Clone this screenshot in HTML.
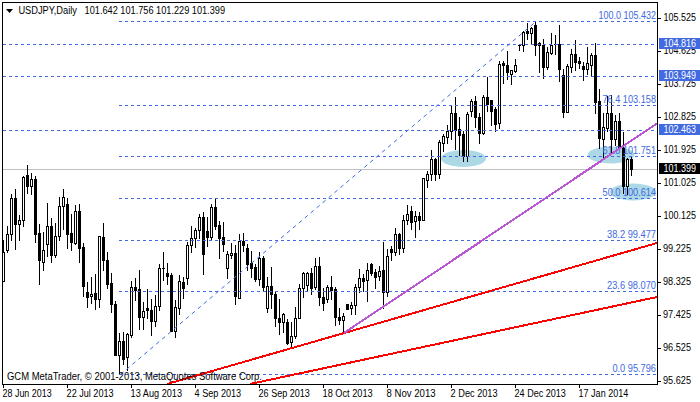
<!DOCTYPE html>
<html><head><meta charset="utf-8"><title>USDJPY,Daily</title>
<style>html,body{margin:0;padding:0;background:#fff}svg{display:block}text{font-family:"Liberation Sans",sans-serif;font-size:10px}</style></head><body>
<svg width="700" height="402" viewBox="0 0 700 402">
<rect x="0" y="0" width="700" height="402" fill="#ffffff"/>
<g fill="#add8e6">
<ellipse cx="463.5" cy="158.5" rx="22.5" ry="8.5"/>
<ellipse cx="611" cy="155" rx="23.5" ry="8.5"/>
<ellipse cx="633" cy="192" rx="23" ry="8.5"/>
</g>
<g shape-rendering="crispEdges">
<rect x="3" y="169" width="654" height="1" fill="#c0c0c0"/>
<g fill="#000">
<rect x="3" y="240" width="1" height="42"/>
<rect x="2" y="252" width="3" height="30"/>
<rect x="3" y="253" width="1" height="28" fill="#fff"/>
<rect x="7" y="226" width="1" height="27"/>
<rect x="6" y="234" width="3" height="17"/>
<rect x="7" y="235" width="1" height="15" fill="#fff"/>
<rect x="11" y="194" width="1" height="47"/>
<rect x="10" y="198" width="3" height="37"/>
<rect x="11" y="199" width="1" height="35" fill="#fff"/>
<rect x="15" y="189" width="1" height="61"/>
<rect x="14" y="198" width="3" height="27"/>
<rect x="19" y="215" width="1" height="26"/>
<rect x="18" y="220" width="3" height="5"/>
<rect x="19" y="221" width="1" height="3" fill="#fff"/>
<rect x="23" y="176" width="1" height="51"/>
<rect x="22" y="177" width="3" height="44"/>
<rect x="23" y="178" width="1" height="42" fill="#fff"/>
<rect x="27" y="165" width="1" height="29"/>
<rect x="26" y="175" width="3" height="12"/>
<rect x="31" y="173" width="1" height="22"/>
<rect x="30" y="179" width="3" height="8"/>
<rect x="31" y="180" width="1" height="6" fill="#fff"/>
<rect x="35" y="176" width="1" height="67"/>
<rect x="34" y="179" width="3" height="56"/>
<rect x="39" y="224" width="1" height="61"/>
<rect x="38" y="233" width="3" height="28"/>
<rect x="43" y="232" width="1" height="39"/>
<rect x="42" y="250" width="3" height="13"/>
<rect x="43" y="251" width="1" height="11" fill="#fff"/>
<rect x="47" y="203" width="1" height="54"/>
<rect x="46" y="226" width="3" height="19"/>
<rect x="47" y="227" width="1" height="17" fill="#fff"/>
<rect x="51" y="218" width="1" height="45"/>
<rect x="50" y="226" width="3" height="30"/>
<rect x="55" y="223" width="1" height="35"/>
<rect x="54" y="236" width="3" height="20"/>
<rect x="55" y="237" width="1" height="18" fill="#fff"/>
<rect x="59" y="197" width="1" height="44"/>
<rect x="58" y="206" width="3" height="31"/>
<rect x="59" y="207" width="1" height="29" fill="#fff"/>
<rect x="63" y="189" width="1" height="41"/>
<rect x="62" y="197" width="3" height="10"/>
<rect x="63" y="198" width="1" height="8" fill="#fff"/>
<rect x="67" y="198" width="1" height="51"/>
<rect x="66" y="204" width="3" height="31"/>
<rect x="71" y="214" width="1" height="37"/>
<rect x="70" y="233" width="3" height="10"/>
<rect x="75" y="205" width="1" height="40"/>
<rect x="74" y="211" width="3" height="33"/>
<rect x="75" y="212" width="1" height="31" fill="#fff"/>
<rect x="79" y="204" width="1" height="59"/>
<rect x="78" y="211" width="3" height="38"/>
<rect x="83" y="243" width="1" height="54"/>
<rect x="82" y="247" width="3" height="40"/>
<rect x="87" y="282" width="1" height="26"/>
<rect x="86" y="292" width="3" height="6"/>
<rect x="91" y="277" width="1" height="27"/>
<rect x="90" y="294" width="3" height="3"/>
<rect x="91" y="295" width="1" height="1" fill="#fff"/>
<rect x="95" y="274" width="1" height="36"/>
<rect x="94" y="293" width="3" height="7"/>
<rect x="99" y="236" width="1" height="72"/>
<rect x="98" y="236" width="3" height="64"/>
<rect x="99" y="237" width="1" height="62" fill="#fff"/>
<rect x="103" y="223" width="1" height="48"/>
<rect x="102" y="237" width="3" height="24"/>
<rect x="107" y="252" width="1" height="37"/>
<rect x="106" y="260" width="3" height="25"/>
<rect x="111" y="273" width="1" height="40"/>
<rect x="110" y="283" width="3" height="22"/>
<rect x="115" y="301" width="1" height="55"/>
<rect x="114" y="304" width="3" height="52"/>
<rect x="119" y="333" width="1" height="42"/>
<rect x="118" y="341" width="3" height="15"/>
<rect x="119" y="342" width="1" height="13" fill="#fff"/>
<rect x="123" y="332" width="1" height="33"/>
<rect x="122" y="341" width="3" height="19"/>
<rect x="127" y="333" width="1" height="38"/>
<rect x="126" y="334" width="3" height="24"/>
<rect x="127" y="335" width="1" height="22" fill="#fff"/>
<rect x="131" y="281" width="1" height="57"/>
<rect x="130" y="287" width="3" height="49"/>
<rect x="131" y="288" width="1" height="47" fill="#fff"/>
<rect x="135" y="278" width="1" height="23"/>
<rect x="134" y="287" width="3" height="4"/>
<rect x="139" y="270" width="1" height="60"/>
<rect x="138" y="289" width="3" height="29"/>
<rect x="143" y="302" width="1" height="28"/>
<rect x="142" y="311" width="3" height="7"/>
<rect x="143" y="312" width="1" height="5" fill="#fff"/>
<rect x="147" y="289" width="1" height="30"/>
<rect x="146" y="308" width="3" height="3"/>
<rect x="151" y="299" width="1" height="37"/>
<rect x="150" y="310" width="3" height="12"/>
<rect x="155" y="295" width="1" height="32"/>
<rect x="154" y="306" width="3" height="16"/>
<rect x="155" y="307" width="1" height="14" fill="#fff"/>
<rect x="159" y="264" width="1" height="47"/>
<rect x="158" y="268" width="3" height="39"/>
<rect x="159" y="269" width="1" height="37" fill="#fff"/>
<rect x="163" y="252" width="1" height="29"/>
<rect x="162" y="268" width="3" height="1"/>
<rect x="167" y="263" width="1" height="22"/>
<rect x="166" y="273" width="3" height="4"/>
<rect x="171" y="273" width="1" height="59"/>
<rect x="170" y="275" width="3" height="57"/>
<rect x="175" y="300" width="1" height="38"/>
<rect x="174" y="307" width="3" height="25"/>
<rect x="175" y="308" width="1" height="23" fill="#fff"/>
<rect x="179" y="275" width="1" height="40"/>
<rect x="178" y="281" width="3" height="28"/>
<rect x="179" y="282" width="1" height="26" fill="#fff"/>
<rect x="183" y="277" width="1" height="22"/>
<rect x="182" y="282" width="3" height="7"/>
<rect x="187" y="242" width="1" height="43"/>
<rect x="186" y="245" width="3" height="34"/>
<rect x="187" y="246" width="1" height="32" fill="#fff"/>
<rect x="191" y="226" width="1" height="27"/>
<rect x="190" y="238" width="3" height="8"/>
<rect x="191" y="239" width="1" height="6" fill="#fff"/>
<rect x="195" y="228" width="1" height="20"/>
<rect x="194" y="230" width="3" height="9"/>
<rect x="195" y="231" width="1" height="7" fill="#fff"/>
<rect x="199" y="214" width="1" height="25"/>
<rect x="198" y="217" width="3" height="14"/>
<rect x="199" y="218" width="1" height="12" fill="#fff"/>
<rect x="203" y="212" width="1" height="63"/>
<rect x="202" y="217" width="3" height="38"/>
<rect x="207" y="217" width="1" height="30"/>
<rect x="206" y="231" width="3" height="7"/>
<rect x="211" y="204" width="1" height="37"/>
<rect x="210" y="207" width="3" height="31"/>
<rect x="211" y="208" width="1" height="29" fill="#fff"/>
<rect x="215" y="198" width="1" height="32"/>
<rect x="214" y="207" width="3" height="20"/>
<rect x="219" y="221" width="1" height="38"/>
<rect x="218" y="225" width="3" height="14"/>
<rect x="223" y="222" width="1" height="30"/>
<rect x="222" y="237" width="3" height="8"/>
<rect x="227" y="251" width="1" height="28"/>
<rect x="226" y="254" width="3" height="15"/>
<rect x="227" y="255" width="1" height="13" fill="#fff"/>
<rect x="231" y="243" width="1" height="16"/>
<rect x="230" y="253" width="3" height="3"/>
<rect x="231" y="254" width="1" height="1" fill="#fff"/>
<rect x="235" y="245" width="1" height="60"/>
<rect x="234" y="253" width="3" height="44"/>
<rect x="239" y="234" width="1" height="65"/>
<rect x="238" y="241" width="3" height="58"/>
<rect x="239" y="242" width="1" height="56" fill="#fff"/>
<rect x="243" y="233" width="1" height="19"/>
<rect x="242" y="241" width="3" height="5"/>
<rect x="247" y="244" width="1" height="27"/>
<rect x="246" y="248" width="3" height="17"/>
<rect x="251" y="251" width="1" height="27"/>
<rect x="250" y="263" width="3" height="6"/>
<rect x="255" y="264" width="1" height="18"/>
<rect x="254" y="267" width="3" height="13"/>
<rect x="259" y="252" width="1" height="34"/>
<rect x="258" y="258" width="3" height="22"/>
<rect x="259" y="259" width="1" height="20" fill="#fff"/>
<rect x="263" y="256" width="1" height="36"/>
<rect x="262" y="258" width="3" height="30"/>
<rect x="267" y="277" width="1" height="36"/>
<rect x="266" y="286" width="3" height="23"/>
<rect x="267" y="287" width="1" height="21" fill="#fff"/>
<rect x="271" y="267" width="1" height="42"/>
<rect x="270" y="286" width="3" height="9"/>
<rect x="275" y="292" width="1" height="35"/>
<rect x="274" y="294" width="3" height="25"/>
<rect x="279" y="299" width="1" height="36"/>
<rect x="278" y="318" width="3" height="5"/>
<rect x="283" y="313" width="1" height="20"/>
<rect x="282" y="314" width="3" height="9"/>
<rect x="283" y="315" width="1" height="7" fill="#fff"/>
<rect x="287" y="319" width="1" height="26"/>
<rect x="286" y="322" width="3" height="22"/>
<rect x="291" y="322" width="1" height="26"/>
<rect x="290" y="336" width="3" height="7"/>
<rect x="291" y="337" width="1" height="5" fill="#fff"/>
<rect x="295" y="307" width="1" height="32"/>
<rect x="294" y="318" width="3" height="19"/>
<rect x="295" y="319" width="1" height="17" fill="#fff"/>
<rect x="299" y="284" width="1" height="35"/>
<rect x="298" y="288" width="3" height="31"/>
<rect x="299" y="289" width="1" height="29" fill="#fff"/>
<rect x="303" y="272" width="1" height="26"/>
<rect x="302" y="273" width="3" height="16"/>
<rect x="303" y="274" width="1" height="14" fill="#fff"/>
<rect x="307" y="272" width="1" height="20"/>
<rect x="306" y="273" width="3" height="13"/>
<rect x="307" y="274" width="1" height="11" fill="#fff"/>
<rect x="311" y="268" width="1" height="27"/>
<rect x="310" y="273" width="3" height="16"/>
<rect x="315" y="258" width="1" height="32"/>
<rect x="314" y="266" width="3" height="22"/>
<rect x="315" y="267" width="1" height="20" fill="#fff"/>
<rect x="319" y="257" width="1" height="49"/>
<rect x="318" y="266" width="3" height="32"/>
<rect x="323" y="288" width="1" height="23"/>
<rect x="322" y="297" width="3" height="7"/>
<rect x="327" y="285" width="1" height="18"/>
<rect x="326" y="287" width="3" height="13"/>
<rect x="327" y="288" width="1" height="11" fill="#fff"/>
<rect x="331" y="276" width="1" height="24"/>
<rect x="330" y="287" width="3" height="4"/>
<rect x="335" y="287" width="1" height="39"/>
<rect x="334" y="289" width="3" height="29"/>
<rect x="339" y="308" width="1" height="17"/>
<rect x="338" y="317" width="3" height="4"/>
<rect x="343" y="313" width="1" height="20"/>
<rect x="342" y="316" width="3" height="5"/>
<rect x="343" y="317" width="1" height="3" fill="#fff"/>
<rect x="347" y="304" width="1" height="6"/>
<rect x="346" y="304" width="3" height="6"/>
<rect x="351" y="302" width="1" height="13"/>
<rect x="350" y="305" width="3" height="4"/>
<rect x="351" y="306" width="1" height="2" fill="#fff"/>
<rect x="355" y="284" width="1" height="31"/>
<rect x="354" y="287" width="3" height="19"/>
<rect x="355" y="288" width="1" height="17" fill="#fff"/>
<rect x="359" y="269" width="1" height="24"/>
<rect x="358" y="278" width="3" height="10"/>
<rect x="359" y="279" width="1" height="8" fill="#fff"/>
<rect x="363" y="274" width="1" height="18"/>
<rect x="362" y="278" width="3" height="4"/>
<rect x="367" y="263" width="1" height="39"/>
<rect x="366" y="270" width="3" height="11"/>
<rect x="367" y="271" width="1" height="9" fill="#fff"/>
<rect x="371" y="263" width="1" height="13"/>
<rect x="370" y="264" width="3" height="10"/>
<rect x="375" y="269" width="1" height="20"/>
<rect x="374" y="272" width="3" height="6"/>
<rect x="379" y="266" width="1" height="15"/>
<rect x="378" y="271" width="3" height="6"/>
<rect x="379" y="272" width="1" height="4" fill="#fff"/>
<rect x="383" y="242" width="1" height="67"/>
<rect x="382" y="270" width="3" height="23"/>
<rect x="387" y="249" width="1" height="48"/>
<rect x="386" y="256" width="3" height="37"/>
<rect x="387" y="257" width="1" height="35" fill="#fff"/>
<rect x="391" y="246" width="1" height="15"/>
<rect x="390" y="249" width="3" height="4"/>
<rect x="395" y="228" width="1" height="28"/>
<rect x="394" y="234" width="3" height="19"/>
<rect x="395" y="235" width="1" height="17" fill="#fff"/>
<rect x="399" y="233" width="1" height="22"/>
<rect x="398" y="234" width="3" height="15"/>
<rect x="403" y="215" width="1" height="38"/>
<rect x="402" y="220" width="3" height="29"/>
<rect x="403" y="221" width="1" height="27" fill="#fff"/>
<rect x="407" y="205" width="1" height="20"/>
<rect x="406" y="214" width="3" height="7"/>
<rect x="407" y="215" width="1" height="5" fill="#fff"/>
<rect x="411" y="206" width="1" height="24"/>
<rect x="410" y="211" width="3" height="12"/>
<rect x="415" y="211" width="1" height="27"/>
<rect x="414" y="216" width="3" height="6"/>
<rect x="415" y="217" width="1" height="4" fill="#fff"/>
<rect x="419" y="212" width="1" height="18"/>
<rect x="418" y="216" width="3" height="5"/>
<rect x="423" y="178" width="1" height="43"/>
<rect x="422" y="178" width="3" height="43"/>
<rect x="423" y="179" width="1" height="41" fill="#fff"/>
<rect x="427" y="171" width="1" height="17"/>
<rect x="426" y="174" width="3" height="7"/>
<rect x="427" y="175" width="1" height="5" fill="#fff"/>
<rect x="431" y="150" width="1" height="31"/>
<rect x="430" y="159" width="3" height="16"/>
<rect x="431" y="160" width="1" height="14" fill="#fff"/>
<rect x="435" y="158" width="1" height="23"/>
<rect x="434" y="159" width="3" height="16"/>
<rect x="439" y="140" width="1" height="39"/>
<rect x="438" y="142" width="3" height="33"/>
<rect x="439" y="143" width="1" height="31" fill="#fff"/>
<rect x="443" y="134" width="1" height="18"/>
<rect x="442" y="136" width="3" height="8"/>
<rect x="443" y="137" width="1" height="6" fill="#fff"/>
<rect x="447" y="125" width="1" height="19"/>
<rect x="446" y="131" width="3" height="7"/>
<rect x="447" y="132" width="1" height="5" fill="#fff"/>
<rect x="451" y="105" width="1" height="35"/>
<rect x="450" y="113" width="3" height="19"/>
<rect x="451" y="114" width="1" height="17" fill="#fff"/>
<rect x="455" y="97" width="1" height="53"/>
<rect x="454" y="113" width="3" height="18"/>
<rect x="459" y="117" width="1" height="39"/>
<rect x="458" y="129" width="3" height="7"/>
<rect x="463" y="131" width="1" height="31"/>
<rect x="462" y="134" width="3" height="23"/>
<rect x="467" y="112" width="1" height="50"/>
<rect x="466" y="114" width="3" height="43"/>
<rect x="467" y="115" width="1" height="41" fill="#fff"/>
<rect x="471" y="99" width="1" height="18"/>
<rect x="470" y="101" width="3" height="11"/>
<rect x="471" y="102" width="1" height="9" fill="#fff"/>
<rect x="475" y="96" width="1" height="32"/>
<rect x="474" y="101" width="3" height="17"/>
<rect x="479" y="113" width="1" height="31"/>
<rect x="478" y="117" width="3" height="17"/>
<rect x="483" y="95" width="1" height="40"/>
<rect x="482" y="97" width="3" height="37"/>
<rect x="483" y="98" width="1" height="35" fill="#fff"/>
<rect x="487" y="77" width="1" height="35"/>
<rect x="486" y="97" width="3" height="8"/>
<rect x="491" y="100" width="1" height="26"/>
<rect x="490" y="100" width="3" height="12"/>
<rect x="495" y="107" width="1" height="25"/>
<rect x="494" y="109" width="3" height="16"/>
<rect x="499" y="61" width="1" height="68"/>
<rect x="498" y="64" width="3" height="60"/>
<rect x="499" y="65" width="1" height="58" fill="#fff"/>
<rect x="503" y="61" width="1" height="23"/>
<rect x="502" y="63" width="3" height="3"/>
<rect x="507" y="51" width="1" height="29"/>
<rect x="506" y="65" width="3" height="8"/>
<rect x="511" y="70" width="1" height="15"/>
<rect x="510" y="70" width="3" height="5"/>
<rect x="511" y="71" width="1" height="3" fill="#fff"/>
<rect x="515" y="59" width="1" height="14"/>
<rect x="514" y="65" width="3" height="7"/>
<rect x="515" y="66" width="1" height="5" fill="#fff"/>
<rect x="519" y="45" width="1" height="6"/>
<rect x="518" y="45" width="3" height="1"/>
<rect x="523" y="31" width="1" height="21"/>
<rect x="522" y="32" width="3" height="14"/>
<rect x="523" y="33" width="1" height="12" fill="#fff"/>
<rect x="527" y="23" width="1" height="17"/>
<rect x="526" y="31" width="3" height="3"/>
<rect x="531" y="27" width="1" height="18"/>
<rect x="530" y="28" width="3" height="6"/>
<rect x="531" y="29" width="1" height="4" fill="#fff"/>
<rect x="535" y="21" width="1" height="35"/>
<rect x="534" y="25" width="3" height="21"/>
<rect x="539" y="42" width="1" height="31"/>
<rect x="538" y="43" width="3" height="3"/>
<rect x="539" y="44" width="1" height="1" fill="#fff"/>
<rect x="543" y="39" width="1" height="40"/>
<rect x="542" y="45" width="3" height="23"/>
<rect x="547" y="47" width="1" height="23"/>
<rect x="546" y="52" width="3" height="16"/>
<rect x="547" y="53" width="1" height="14" fill="#fff"/>
<rect x="551" y="33" width="1" height="22"/>
<rect x="550" y="45" width="3" height="9"/>
<rect x="551" y="46" width="1" height="7" fill="#fff"/>
<rect x="555" y="35" width="1" height="20"/>
<rect x="554" y="44" width="3" height="1"/>
<rect x="559" y="25" width="1" height="57"/>
<rect x="558" y="44" width="3" height="26"/>
<rect x="563" y="69" width="1" height="49"/>
<rect x="562" y="75" width="3" height="38"/>
<rect x="567" y="64" width="1" height="49"/>
<rect x="566" y="66" width="3" height="47"/>
<rect x="567" y="67" width="1" height="45" fill="#fff"/>
<rect x="571" y="49" width="1" height="24"/>
<rect x="570" y="54" width="3" height="14"/>
<rect x="571" y="55" width="1" height="12" fill="#fff"/>
<rect x="575" y="40" width="1" height="31"/>
<rect x="574" y="54" width="3" height="9"/>
<rect x="579" y="57" width="1" height="12"/>
<rect x="578" y="61" width="3" height="3"/>
<rect x="583" y="62" width="1" height="19"/>
<rect x="582" y="66" width="3" height="4"/>
<rect x="587" y="47" width="1" height="28"/>
<rect x="586" y="63" width="3" height="7"/>
<rect x="587" y="64" width="1" height="5" fill="#fff"/>
<rect x="591" y="53" width="1" height="24"/>
<rect x="590" y="55" width="3" height="11"/>
<rect x="591" y="56" width="1" height="9" fill="#fff"/>
<rect x="595" y="43" width="1" height="71"/>
<rect x="594" y="55" width="3" height="48"/>
<rect x="599" y="89" width="1" height="60"/>
<rect x="598" y="101" width="3" height="38"/>
<rect x="603" y="113" width="1" height="45"/>
<rect x="602" y="127" width="3" height="13"/>
<rect x="603" y="128" width="1" height="11" fill="#fff"/>
<rect x="607" y="96" width="1" height="36"/>
<rect x="606" y="113" width="3" height="16"/>
<rect x="607" y="114" width="1" height="14" fill="#fff"/>
<rect x="611" y="95" width="1" height="59"/>
<rect x="610" y="113" width="3" height="27"/>
<rect x="615" y="115" width="1" height="31"/>
<rect x="614" y="121" width="3" height="19"/>
<rect x="615" y="122" width="1" height="17" fill="#fff"/>
<rect x="619" y="113" width="1" height="35"/>
<rect x="618" y="121" width="3" height="27"/>
<rect x="623" y="132" width="1" height="62"/>
<rect x="622" y="148" width="3" height="39"/>
<rect x="627" y="158" width="1" height="37"/>
<rect x="626" y="159" width="3" height="28"/>
<rect x="627" y="160" width="1" height="26" fill="#fff"/>
<rect x="631" y="156" width="1" height="20"/>
<rect x="630" y="159" width="3" height="11"/>
</g>
<g stroke="#4169e1" stroke-width="1" stroke-dasharray="3 3" fill="none">
<line x1="3" y1="44.5" x2="657" y2="44.5"/>
<line x1="3" y1="76.5" x2="657" y2="76.5"/>
<line x1="3" y1="130.5" x2="657" y2="130.5"/>
<line x1="119" y1="21.5" x2="657" y2="21.5"/>
<line x1="119" y1="105.5" x2="657" y2="105.5"/>
<line x1="119" y1="156.5" x2="657" y2="156.5"/>
<line x1="119" y1="198.5" x2="657" y2="198.5"/>
<line x1="119" y1="240.5" x2="657" y2="240.5"/>
<line x1="119" y1="291.5" x2="657" y2="291.5"/>
<line x1="119" y1="374.5" x2="657" y2="374.5"/>
</g>
</g>
<line x1="120.5" y1="374.5" x2="536" y2="21.5" stroke="#4169e1" stroke-width="1" stroke-dasharray="3.9 3.9"/>
<text x="598.4" y="19" text-anchor="start" fill="#4169e1" textLength="57.6" lengthAdjust="spacingAndGlyphs">100.0 105.432</text>
<text x="602.4" y="103" text-anchor="start" fill="#4169e1" textLength="53.6" lengthAdjust="spacingAndGlyphs">76.4 103.158</text>
<text x="602.6" y="154" text-anchor="start" fill="#4169e1" textLength="53.4" lengthAdjust="spacingAndGlyphs">61.8 101.751</text>
<text x="602.6" y="196" text-anchor="start" fill="#4169e1" textLength="53.4" lengthAdjust="spacingAndGlyphs">50.0 100.614</text>
<text x="607" y="238" text-anchor="start" fill="#4169e1" textLength="49" lengthAdjust="spacingAndGlyphs">38.2 99.477</text>
<text x="607" y="289" text-anchor="start" fill="#4169e1" textLength="49" lengthAdjust="spacingAndGlyphs">23.6 98.070</text>
<text x="612.4" y="372" text-anchor="start" fill="#4169e1" textLength="43.6" lengthAdjust="spacingAndGlyphs">0.0 95.796</text>
<g shape-rendering="crispEdges" fill="none">
<line x1="167" y1="384" x2="657" y2="243" stroke="#ff0000" stroke-width="2"/>
<line x1="250" y1="384" x2="657" y2="297" stroke="#ff0000" stroke-width="2"/>
<line x1="344" y1="333" x2="657" y2="123.5" stroke="#ba55d3" stroke-width="2"/>
</g>
<g shape-rendering="crispEdges" fill="#000">
<rect x="2" y="2" width="656" height="1"/>
<rect x="2" y="2" width="1" height="383"/>
<rect x="657" y="2" width="1" height="383"/>
<rect x="2" y="384" width="656" height="1"/>
<rect x="658" y="0" width="42" height="402" fill="#fff"/>
<rect x="0" y="385" width="700" height="17" fill="#fff"/>
<rect x="658" y="18" width="3" height="1"/>
<rect x="658" y="51" width="3" height="1"/>
<rect x="658" y="84" width="3" height="1"/>
<rect x="658" y="117" width="3" height="1"/>
<rect x="658" y="150" width="3" height="1"/>
<rect x="658" y="183" width="3" height="1"/>
<rect x="658" y="216" width="3" height="1"/>
<rect x="658" y="249" width="3" height="1"/>
<rect x="658" y="282" width="3" height="1"/>
<rect x="658" y="315" width="3" height="1"/>
<rect x="658" y="348" width="3" height="1"/>
<rect x="658" y="381" width="3" height="1"/>
<rect x="3" y="385" width="1" height="3"/>
<rect x="67" y="385" width="1" height="3"/>
<rect x="131" y="385" width="1" height="3"/>
<rect x="195" y="385" width="1" height="3"/>
<rect x="259" y="385" width="1" height="3"/>
<rect x="323" y="385" width="1" height="3"/>
<rect x="387" y="385" width="1" height="3"/>
<rect x="451" y="385" width="1" height="3"/>
<rect x="515" y="385" width="1" height="3"/>
<rect x="579" y="385" width="1" height="3"/>
</g>
<text x="663.5" y="21" text-anchor="start" fill="#000" textLength="32.5" lengthAdjust="spacingAndGlyphs">105.525</text>
<text x="663.5" y="54" text-anchor="start" fill="#000" textLength="32.5" lengthAdjust="spacingAndGlyphs">104.625</text>
<text x="663.5" y="87" text-anchor="start" fill="#000" textLength="32.5" lengthAdjust="spacingAndGlyphs">103.725</text>
<text x="663.5" y="120" text-anchor="start" fill="#000" textLength="32.5" lengthAdjust="spacingAndGlyphs">102.825</text>
<text x="663.5" y="153" text-anchor="start" fill="#000" textLength="32.5" lengthAdjust="spacingAndGlyphs">101.925</text>
<text x="663.5" y="186" text-anchor="start" fill="#000" textLength="32.5" lengthAdjust="spacingAndGlyphs">101.025</text>
<text x="663.5" y="219" text-anchor="start" fill="#000" textLength="32.5" lengthAdjust="spacingAndGlyphs">100.125</text>
<text x="663" y="252" text-anchor="start" fill="#000" textLength="28" lengthAdjust="spacingAndGlyphs">99.225</text>
<text x="663" y="285" text-anchor="start" fill="#000" textLength="28" lengthAdjust="spacingAndGlyphs">98.325</text>
<text x="663" y="318" text-anchor="start" fill="#000" textLength="28" lengthAdjust="spacingAndGlyphs">97.425</text>
<text x="663" y="351" text-anchor="start" fill="#000" textLength="28" lengthAdjust="spacingAndGlyphs">96.525</text>
<text x="663" y="384" text-anchor="start" fill="#000" textLength="28" lengthAdjust="spacingAndGlyphs">95.625</text>
<g shape-rendering="crispEdges">
<rect x="659" y="38" width="41" height="11" fill="#4169e1"/>
<rect x="659" y="70" width="41" height="11" fill="#4169e1"/>
<rect x="659" y="124" width="41" height="11" fill="#4169e1"/>
<rect x="659" y="163" width="41" height="11" fill="#000"/>
</g>
<text x="663.5" y="47" text-anchor="start" fill="#fff" textLength="32.5" lengthAdjust="spacingAndGlyphs">104.816</text>
<text x="663.5" y="79" text-anchor="start" fill="#fff" textLength="32.5" lengthAdjust="spacingAndGlyphs">103.949</text>
<text x="663.5" y="133" text-anchor="start" fill="#fff" textLength="32.5" lengthAdjust="spacingAndGlyphs">102.463</text>
<text x="663.5" y="172" text-anchor="start" fill="#fff" textLength="32.5" lengthAdjust="spacingAndGlyphs">101.399</text>
<text x="2.6" y="397" text-anchor="start" fill="#000" textLength="49" lengthAdjust="spacingAndGlyphs">28 Jun 2013</text>
<text x="66.6" y="397" text-anchor="start" fill="#000" textLength="47" lengthAdjust="spacingAndGlyphs">22 Jul 2013</text>
<text x="130.6" y="397" text-anchor="start" fill="#000" textLength="51.4" lengthAdjust="spacingAndGlyphs">13 Aug 2013</text>
<text x="194.6" y="397" text-anchor="start" fill="#000" textLength="46.6" lengthAdjust="spacingAndGlyphs">4 Sep 2013</text>
<text x="258.6" y="397" text-anchor="start" fill="#000" textLength="51.2" lengthAdjust="spacingAndGlyphs">26 Sep 2013</text>
<text x="322.6" y="397" text-anchor="start" fill="#000" textLength="50" lengthAdjust="spacingAndGlyphs">18 Oct 2013</text>
<text x="386.6" y="397" text-anchor="start" fill="#000" textLength="49" lengthAdjust="spacingAndGlyphs">8 Nov 2013</text>
<text x="450.6" y="397" text-anchor="start" fill="#000" textLength="47" lengthAdjust="spacingAndGlyphs">2 Dec 2013</text>
<text x="514.6" y="397" text-anchor="start" fill="#000" textLength="51.2" lengthAdjust="spacingAndGlyphs">24 Dec 2013</text>
<text x="578.6" y="397" text-anchor="start" fill="#000" textLength="49.6" lengthAdjust="spacingAndGlyphs">17 Jan 2014</text>
<polygon points="6,9 13,9 9.5,13" fill="#000"/>
<text x="18.4" y="14" text-anchor="start" fill="#000" textLength="58.6" lengthAdjust="spacingAndGlyphs">USDJPY,Daily</text>
<text x="84.6" y="14" text-anchor="start" fill="#000" textLength="140.4" lengthAdjust="spacingAndGlyphs">101.642 101.756 101.229 101.399</text>
<text x="7" y="380" text-anchor="start" fill="#000" textLength="255" lengthAdjust="spacingAndGlyphs">GCM MetaTrader, © 2001-2013, MetaQuotes Software Corp.</text>
</svg></body></html>
